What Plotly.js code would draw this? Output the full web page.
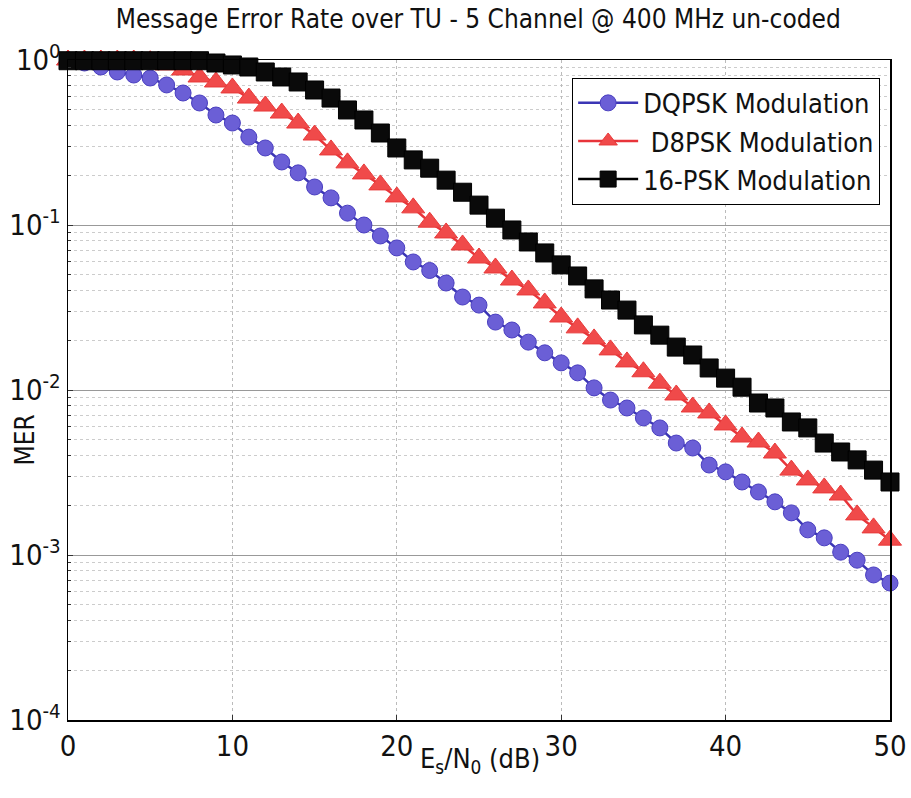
<!DOCTYPE html>
<html><head><meta charset="utf-8">
<script src="https://cdn.plot.ly/plotly-3.0.1.min.js"></script>
<style>body{margin:0;background:#fff}#chart{width:911px;height:798px}</style>
</head><body><div id="chart"></div>
<script>
const snr = [];
for (let i = 0; i <= 50; i++) snr.push(i);

const merDQPSK = [1.0,0.959,0.907,0.846,0.811,0.778,0.706,0.631,0.549,0.464,
  0.415,0.341,0.293,0.241,0.207,0.170,0.146,0.118,0.100,0.0858,
  0.0726,0.0597,0.053,0.0445,0.0366,0.0327,0.0258,0.0231,0.0195,0.0168,
  0.0146,0.0127,0.0103,0.00869,0.00778,0.00677,0.00589,0.00477,0.00445,0.00351,
  0.00319,0.00277,0.00241,0.00210,0.00180,0.00142,0.00127,0.00104,0.00093,0.000757,
  0.000676];
const merD8PSK = [1.0,1.0,1.0,1.0,1.0,0.99,0.933,0.870,0.789,0.736,
  0.677,0.588,0.526,0.477,0.415,0.351,0.285,0.238,0.204,0.175,
  0.148,0.127,0.104,0.0895,0.0757,0.0631,0.0549,0.0464,0.0404,0.0337,
  0.0277,0.0238,0.0204,0.0175,0.0148,0.0129,0.0110,0.00933,0.00789,0.00726,
  0.00614,0.00519,0.00484,0.00415,0.00327,0.00285,0.00255,0.00231,0.00175,0.00146,
  0.00123];
const mer16PSK = [0.99,0.99,0.99,0.99,0.99,0.99,0.99,0.99,0.99,0.959,
  0.933,0.907,0.846,0.789,0.736,0.658,0.588,0.498,0.433,0.361,
  0.293,0.248,0.221,0.187,0.158,0.132,0.110,0.0933,0.0789,0.0677,
  0.0573,0.0491,0.0410,0.0351,0.0305,0.0248,0.0215,0.0182,0.0163,0.0136,
  0.0118,0.0104,0.00834,0.00778,0.00640,0.00589,0.00477,0.00421,0.00377,0.00327,
  0.00277];

const seriesNames = ['DQPSK Modulation', ' D8PSK Modulation', '16-PSK Modulation'];
const yTickVals = [1e-4, 1e-3, 1e-2, 1e-1, 1];
const yTickText = ['10<sup>-4</sup>', '10<sup>-3</sup>', '10<sup>-2</sup>', '10<sup>-1</sup>', '10<sup>0</sup>'];
const xTickVals = [0, 10, 20, 30, 40, 50];
const xTitle = 'E<sub>s</sub>/N<sub>0</sub> (dB)';
const yTitle = 'MER';

const FONT = '"DejaVu Sans Condensed", "Liberation Sans Narrow", "Liberation Sans", Arial, sans-serif';

const traces = [
  {x: snr, y: merDQPSK, name: seriesNames[0], type: 'scatter', mode: 'lines+markers', cliponaxis: false,
   line: {color: '#3b35b5', width: 2.5},
   marker: {symbol: 'circle', size: 16, color: '#6b5fd6', line: {color: '#4a3fc0', width: 1}}},
  {x: snr, y: merD8PSK, name: seriesNames[1], type: 'scatter', mode: 'lines+markers', cliponaxis: false,
   line: {color: '#e8343a', width: 2.5},
   marker: {symbol: 'triangle-up', size: 20, color: '#f04a4a', line: {color: '#e83a3a', width: 1}}},
  {x: snr, y: mer16PSK, name: seriesNames[2], type: 'scatter', mode: 'lines+markers', cliponaxis: false,
   line: {color: '#000000', width: 2.5},
   marker: {symbol: 'square', size: 18, color: '#0a0a0a', line: {color: '#000', width: 1}}}
];

const layout = {
  width: 911, height: 798,
  margin: {l: 68, r: 21, t: 60, b: 78},
  paper_bgcolor: '#fff', plot_bgcolor: '#fff',
  font: {family: FONT, color: '#111', size: 26},
  title: {text: 'Message Error Rate over TU - 5 Channel @ 400 MHz un-coded',
          font: {family: FONT, size: 26, color: '#111'}, x: 0.525, xanchor: 'center', y: 0.988, yanchor: 'top'},
  xaxis: {range: [0, 50], tickvals: xTickVals, ticks: 'inside', ticklen: 5, tickcolor: '#333',
          showline: true, linecolor: '#000', linewidth: 1.5, mirror: true,
          showgrid: true, gridcolor: '#bbb', griddash: 'dot', gridwidth: 1, zeroline: false,
          tickfont: {family: FONT, size: 29}},
  yaxis: {type: 'log', range: [-4, 0], tickvals: yTickVals, ticktext: yTickText,
          ticks: 'inside', ticklen: 5, tickcolor: '#333',
          showline: true, linecolor: '#000', linewidth: 1.5, mirror: true,
          showgrid: true, gridcolor: '#999', gridwidth: 1, zeroline: false,
          minor: {showgrid: true, gridcolor: '#ccc', griddash: 'dot', ticks: 'inside', ticklen: 3, dtick: 'D1'},
          tickfont: {family: FONT, size: 29}},
  annotations: [
    {text: xTitle, xref: 'paper', yref: 'paper', x: 0.501, y: -0.062, xanchor: 'center', yanchor: 'middle',
     showarrow: false, font: {family: FONT, size: 27}},
    {text: yTitle, xref: 'paper', yref: 'paper', x: -0.052, y: 0.424, xanchor: 'center', yanchor: 'middle',
     textangle: -90, showarrow: false, font: {family: FONT, size: 26}}
  ],
  showlegend: true,
  legend: {x: 0.988, xanchor: 'right', y: 0.973, yanchor: 'top', bgcolor: '#fff',
           bordercolor: '#000', borderwidth: 1, font: {family: FONT, size: 27},
           tracegroupgap: 0, itemwidth: 60}
};

Plotly.newPlot('chart', traces, layout, {displayModeBar: false, staticPlot: true});
</script>
</body></html>
